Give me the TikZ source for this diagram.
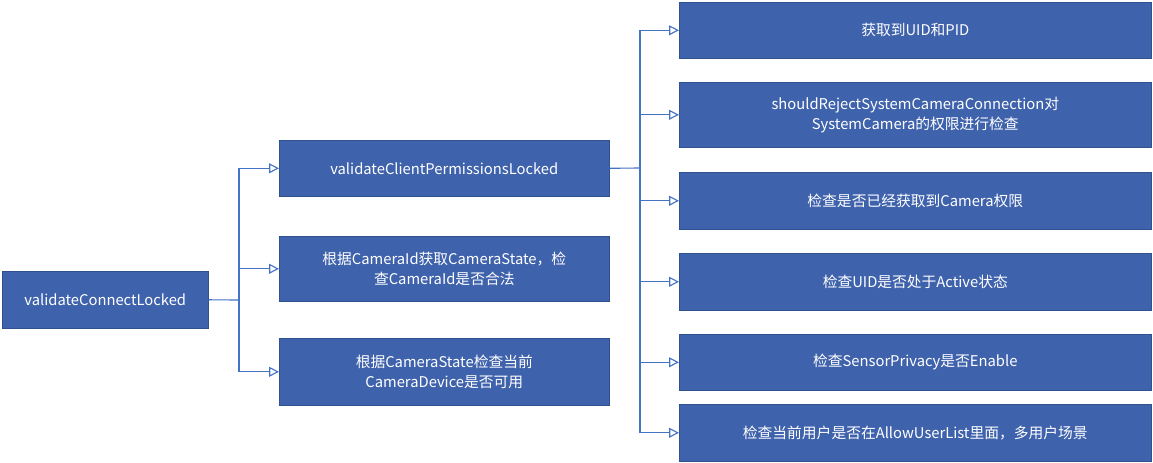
\documentclass[tikz,border=0pt]{standalone}
\usepackage{fontspec}
\setmainfont{Noto Sans CJK SC}
\usetikzlibrary{arrows.meta, positioning}
\definecolor{boxblue}{RGB}{63,98,172}
\definecolor{edgeblue}{RGB}{47,82,143}
\definecolor{lineblue}{RGB}{68,114,196}

\begin{document}
\begin{tikzpicture}[x=0.025cm, y=-0.025cm, >={Triangle[open, length=7pt, width=7pt]},
    stepbox/.style={draw=edgeblue, fill=boxblue, text=white, font=\fontsize{10.5}{14}\selectfont,
        align=center, inner sep=0pt, anchor=north west},
    link/.style={draw=lineblue, thick}]

    \useasboundingbox (0,0) rectangle (1153,462);

    % left
    \node[stepbox, minimum width=206*0.025cm, minimum height=57*0.025cm] (root) at (2,271) {validateConnectLocked};

    % middle column
    \node[stepbox, minimum width=330*0.025cm, minimum height=56*0.025cm] (perm) at (279,140) {validateClientPermissionsLocked};
    \node[stepbox, minimum width=330*0.025cm, minimum height=65*0.025cm] (state) at (279,236) {根据CameraId获取CameraState，检\\查CameraId是否合法};
    \node[stepbox, minimum width=330*0.025cm, minimum height=67*0.025cm] (device) at (279,338) {根据CameraState检查当前\\CameraDevice是否可用};

    % right column
    \node[stepbox, minimum width=472*0.025cm, minimum height=56*0.025cm] (uid) at (679,2) {获取到UID和PID};
    \node[stepbox, minimum width=472*0.025cm, minimum height=65*0.025cm] (sys) at (679,82) {shouldRejectSystemCameraConnection对\\SystemCamera的权限进行检查};
    \node[stepbox, minimum width=472*0.025cm, minimum height=57*0.025cm] (cam) at (679,172) {检查是否已经获取到Camera权限};
    \node[stepbox, minimum width=472*0.025cm, minimum height=57*0.025cm] (active) at (679,253) {检查UID是否处于Active状态};
    \node[stepbox, minimum width=472*0.025cm, minimum height=56*0.025cm] (sensor) at (679,334) {检查SensorPrivacy是否Enable};
    \node[stepbox, minimum width=472*0.025cm, minimum height=57*0.025cm] (user) at (679,404) {检查当前用户是否在AllowUserList里面，多用户场景};

    \coordinate (j1) at (239,300);
    \coordinate (j2) at (640,168);

    \draw[link] (root.east) -- (j1);
    \foreach \t in {perm, state, device}
        \draw[link, ->] (j1) |- (\t.west);

    \draw[link] (perm.east) -- (j2);
    \foreach \t in {uid, sys, cam, active, sensor, user}
        \draw[link, ->] (j2) |- (\t.west);
\end{tikzpicture}
\end{document}
